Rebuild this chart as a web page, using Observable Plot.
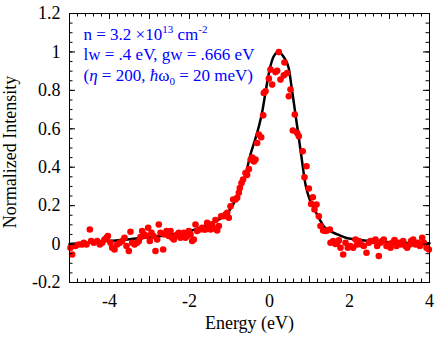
<!DOCTYPE html>
<html><head><meta charset="utf-8">
<script src="https://cdn.jsdelivr.net/npm/d3@7"></script>
<script src="https://cdn.jsdelivr.net/npm/@observablehq/plot@0.6"></script>
<style>body{margin:0;background:#fff}</style>
</head><body><div id="chart"></div>
<script>
// measured points (energy in eV, normalized intensity)
const energy = [-4.975,-4.933,-4.85,-4.767,-4.683,-4.642,-4.575,-4.492,-4.458,-4.392,-4.308,-4.242,-4.183,-4.125,-4.075,-4.042,-3.975,-3.933,-3.875,-3.808,-3.742,-3.683,-3.625,-3.575,-3.517,-3.475,-3.433,-3.375,-3.308,-3.267,-3.225,-3.183,-3.125,-3.075,-3.033,-2.992,-2.95,-2.9,-2.85,-2.808,-2.767,-2.725,-2.658,-2.625,-2.575,-2.517,-2.475,-2.433,-2.392,-2.35,-2.308,-2.267,-2.225,-2.183,-2.142,-2.1,-2.058,-2.017,-1.975,-1.933,-1.892,-1.85,-1.808,-1.742,-1.683,-1.642,-1.6,-1.558,-1.517,-1.475,-1.435,-1.392,-1.35,-1.308,-1.267,-1.208,-1.142,-1.1,-1.058,-1.017,-0.975,-0.908,-0.85,-0.808,-0.767,-0.742,-0.7,-0.66,-0.6,-0.56,-0.517,-0.47,-0.43,-0.39,-0.35,-0.308,-0.267,-0.208,-0.158,-0.142,-0.1,-0.017,0.025,0.067,0.15,0.192,0.233,0.275,0.358,0.375,0.442,0.483,0.525,0.583,0.633,0.692,0.733,0.83,0.875,0.925,0.983,1.042,1.083,1.125,1.175,1.233,1.275,1.342,1.4,1.442,1.508,1.525,1.592,1.65,1.692,1.733,1.775,1.842,1.9,1.958,2.025,2.092,2.15,2.192,2.233,2.292,2.358,2.425,2.483,2.525,2.592,2.65,2.692,2.733,2.775,2.817,2.858,2.925,2.983,3.025,3.067,3.125,3.175,3.233,3.275,3.342,3.4,3.442,3.508,3.542,3.592,3.65,3.708,3.758,3.817,3.858,3.925,3.983];
const intensity = [-0.019,-0.054,-0.01,-0.002,-0.002,0.007,-0.002,0.076,0.016,0.007,0.016,-0.002,0.007,0.024,0.033,0.042,0.007,-0.019,-0.028,-0.002,0.007,0.016,0.033,-0.01,-0.036,0.064,0.007,-0.002,0.007,0.016,0.036,0.068,0.05,0.042,0.085,0.016,0.059,0.042,-0.036,0.024,0.102,0.059,-0.028,0.05,0.068,0.042,0.068,0.033,0.024,0.042,0.05,0.059,0.033,0.05,0.059,0.033,0.042,0.068,0.05,0.016,0.024,0.102,0.068,0.076,0.085,0.076,0.076,0.111,0.094,0.076,0.102,0.081,0.125,0.071,0.094,0.145,0.145,0.154,0.163,0.137,0.197,0.232,0.232,0.241,0.267,0.292,0.318,0.336,0.37,0.36,0.39,0.44,0.45,0.43,0.44,0.526,0.57,0.556,0.67,0.786,0.795,0.861,0.908,0.83,0.895,0.902,0.999,0.856,0.878,0.945,0.89,0.769,0.804,0.591,0.674,0.578,0.561,0.483,0.348,0.405,0.289,0.209,0.244,0.18,0.206,0.145,0.094,0.071,0.068,0.071,0.076,0.007,0.016,0.0,0.007,0.019,-0.019,-0.054,0.007,-0.019,-0.01,-0.019,0.024,-0.002,0.016,-0.002,-0.01,-0.045,0.007,0.016,0.016,0.024,-0.01,-0.062,0.007,0.016,0.024,-0.01,-0.002,-0.019,0.007,0.021,-0.01,0.007,-0.002,0.016,-0.01,-0.019,-0.002,0.016,0.024,-0.002,0.007,-0.01,0.033,0.007,-0.019,-0.028];
// fitted curve
const fitEnergy = [-5,-4.5,-4,-3.5,-3,-2.5,-2,-1.75,-1.5,-1.25,-1.1,-0.93,-0.8,-0.7,-0.6,-0.475,-0.35,-0.25,-0.18,-0.1,0,0.1,0.23,0.35,0.48,0.55,0.65,0.78,0.9,1.0,1.1,1.25,1.35,1.5,1.7,1.95,2.5,3,3.5,4];
const fitIntensity = [0.0,0.008,0.017,0.025,0.035,0.049,0.067,0.084,0.107,0.13,0.152,0.197,0.255,0.3,0.36,0.466,0.55,0.625,0.69,0.79,0.905,0.975,1.0,0.975,0.916,0.82,0.674,0.483,0.31,0.235,0.19,0.13,0.094,0.07,0.05,0.03,0.017,0.01,0.006,0.004];
const xTickLabels = [-4,-2,0,2,4];
const yTickLabels = [-0.2,0,0.2,0.4,0.6,0.8,1,1.2];
const xMajorTicks = [-5,-4,-3,-2,-1,0,1,2,3,4];
const xMinorTicks = d3.range(-50, 41, 2).map(d => d / 10);
const yMinorTicks = d3.range(-20, 121, 5).map(d => d / 100);
const xTitle = "Energy (eV)";
const yTitle = "Normalized Intensity";

const points = energy.map((e, i) => ({e, i: intensity[i]}));
const fit = fitEnergy.map((e, i) => ({e, i: fitIntensity[i]}));

const W = 436, H = 338, mL = 69, mR = 7, mT = 13, mB = 56;
const iW = W - mL - mR, iH = H - mT - mB;
const font = "Liberation Serif";
const blue = "#0000ff";

const chart = Plot.plot({
  width: W, height: H, marginLeft: mL, marginRight: mR, marginTop: mT, marginBottom: mB,
  x: {domain: [-5, 4]},
  y: {domain: [-0.2, 1.2]},
  style: {fontFamily: font, fontSize: "18px", background: "white", color: "black"},
  marks: [
    Plot.line(fit, {x: "e", y: "i", stroke: "black", strokeWidth: 2.5, curve: "monotone-x"}),
    Plot.dot(points, {x: "e", y: "i", r: 3.3, fill: "#ff0000", stroke: "none"}),
    // inward ticks on all four sides
    Plot.tickX(xMajorTicks, {x: d => d, insetTop: iH - 6, stroke: "black"}),
    Plot.tickX(xMajorTicks, {x: d => d, insetBottom: iH - 6, stroke: "black"}),
    Plot.tickX(xMinorTicks, {x: d => d, insetTop: iH - 3.5, stroke: "black"}),
    Plot.tickX(xMinorTicks, {x: d => d, insetBottom: iH - 3.5, stroke: "black"}),
    Plot.tickY(yTickLabels, {y: d => d, insetRight: iW - 6, stroke: "black"}),
    Plot.tickY(yTickLabels, {y: d => d, insetLeft: iW - 6, stroke: "black"}),
    Plot.tickY(yMinorTicks, {y: d => d, insetRight: iW - 3.5, stroke: "black"}),
    Plot.tickY(yMinorTicks, {y: d => d, insetLeft: iW - 3.5, stroke: "black"}),
    Plot.frame({stroke: "black", strokeWidth: 1}),
    Plot.axisX(xTickLabels, {tickSize: 0, tickPadding: 12, tickFormat: d => String(d), fontSize: 18, fontFamily: font, label: null}),
    Plot.axisY(yTickLabels, {tickSize: 0, tickPadding: 9, tickFormat: d => String(d), fontSize: 18, fontFamily: font, label: null}),
    Plot.text([xTitle], {text: d => d, frameAnchor: "bottom", lineAnchor: "bottom", dy: 46, fontSize: 18, fontFamily: font}),
    Plot.text([yTitle], {text: d => d, frameAnchor: "left", textAnchor: "middle", rotate: -90, lineAnchor: "top", dx: -66.5, dy: 4, fontSize: 18, fontFamily: font}),
    Plot.text(["l1"], {text: d => d, frameAnchor: "top-left", textAnchor: "start", lineAnchor: "top", dx: 14, dy: 14.5, fontSize: 17, fontFamily: font, fill: blue, className: "ann1"}),
    Plot.text(["l2"], {text: d => d, frameAnchor: "top-left", textAnchor: "start", lineAnchor: "top", dx: 14, dy: 34.5, fontSize: 17, fontFamily: font, fill: blue, className: "ann2"}),
    Plot.text(["l3"], {text: d => d, frameAnchor: "top-left", textAnchor: "start", lineAnchor: "top", dx: 14, dy: 55, fontSize: 17, fontFamily: font, fill: blue, className: "ann3"})
  ]
});

function rich(cls, parts) {
  const t = d3.select(chart).select("g." + cls + " text");
  t.text("");
  let shift = 0;
  for (const p of parts) {
    const target = p.sup ? -7 : p.sub ? 4 : 0;
    const s = t.append("tspan").text(p.t).attr("dy", target - shift);
    shift = target;
    if (p.sup || p.sub) s.attr("font-size", 11);
    if (p.it) s.attr("font-style", "italic");
  }
}
rich("ann1", [{t: "n = 3.2 ×10"}, {t: "13", sup: true}, {t: " cm"}, {t: "-2", sup: true}]);
rich("ann2", [{t: "lw = .4 eV, gw = .666 eV"}]);
rich("ann3", [{t: "("}, {t: "η", it: true}, {t: " = 200, "}, {t: "ħ", it: true}, {t: "ω"}, {t: "0", sub: true}, {t: " = 20 meV)"}]);

document.getElementById("chart").append(chart);
</script>
</body></html>
